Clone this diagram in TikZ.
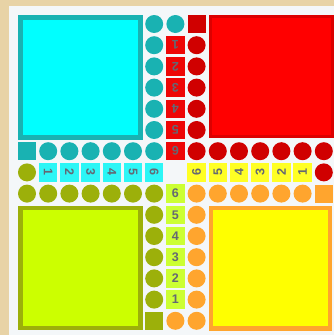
\documentclass[tikz,border=0pt]{standalone}
\usepackage{fontspec}
\setsansfont{Liberation Sans}
\definecolor{beige}{HTML}{E8D3A6}
\definecolor{boardbg}{HTML}{F4F7F9}
\definecolor{tealc}{HTML}{19B2B2}
\definecolor{cyanf}{HTML}{00FFFF}
\definecolor{cyann}{HTML}{2CF6F6}
\definecolor{redf}{HTML}{FF0000}
\definecolor{redc}{HTML}{D00000}
\definecolor{redb}{HTML}{DC0000}
\definecolor{redn}{HTML}{EE0606}
\definecolor{limef}{HTML}{CCFF00}
\definecolor{olivec}{HTML}{9CB00A}
\definecolor{limen}{HTML}{CCFF33}
\definecolor{yellowf}{HTML}{FFFF00}
\definecolor{orangec}{HTML}{FFA52E}
\definecolor{yellown}{HTML}{FFFF24}
\definecolor{numgray}{HTML}{646873}
\begin{document}
\begin{tikzpicture}[x=1pt,y=-1pt,
  dot/.style={circle,fill=#1,minimum size=18pt,inner sep=0pt},
  sqr/.style={rectangle,fill=#1,minimum size=18pt,inner sep=0pt},
  num/.style={rectangle,fill=#1,minimum size=18.5pt,inner sep=0pt,text=numgray,
    font=\sffamily\bfseries\fontsize{12.5}{12.5}\selectfont},
  home/.style={line width=4.5pt,draw=#1}]
\useasboundingbox (0,0) rectangle (334,335);
\fill[beige] (0,0) rectangle (334,335);
\fill[boardbg] (8.5,5.5) rectangle (334,335);
% home squares
\draw[home=tealc,fill=cyanf] (20.3,17.3) rectangle (140.4,137.4);
\draw[home=redb,line width=3pt,fill=redf] (210.3,16.5) rectangle (332,136.6);
\draw[home=olivec,fill=limef] (20.3,208.1) rectangle (140.4,328.2);
\draw[home=orangec,fill=yellowf] (211.1,208.1) rectangle (330.2,328.6);
\def\X#1{{27+21.2*(#1)}}
\def\Y#1{{24+21.2*(#1)}}
% teal (top-left)
\node[sqr=tealc] (t00) at (\X{0},\Y{6}) {};
\foreach \i in {1,...,6} \node[dot=tealc] (tr\i) at (\X{\i},\Y{6}) {};
\foreach \j in {0,...,5} \node[dot=tealc] (tc\j) at (\X{6},\Y{\j}) {};
\node[dot=tealc] (t70) at (\X{7},\Y{0}) {};
\foreach \i in {1,...,6} \node[num=cyann,rotate=-90] (cn\i) at (\X{\i},\Y{7}) {\i};
% olive (bottom-left)
\node[dot=olivec] (o07) at (\X{0},\Y{7}) {};
\foreach \i in {0,...,6} \node[dot=olivec] (or\i) at (\X{\i},\Y{8}) {};
\foreach \j in {9,...,13} \node[dot=olivec] (oc\j) at (\X{6},\Y{\j}) {};
\node[sqr=olivec] (o614) at (\X{6},\Y{14}) {};
\foreach \j/\n in {8/6,9/5,10/4,11/3,12/2,13/1} \node[num=limen] (ln\n) at (\X{7},\Y{\j}) {\n};
% orange (bottom-right)
\node[dot=orangec] (a714) at (\X{7},\Y{14}) {};
\foreach \j in {8,...,14} \node[dot=orangec] (ac\j) at (\X{8},\Y{\j}) {};
\foreach \i in {9,...,13} \node[dot=orangec] (ar\i) at (\X{\i},\Y{8}) {};
\node[sqr=orangec] (a148) at (\X{14},\Y{8}) {};
\foreach \i/\n in {8/6,9/5,10/4,11/3,12/2,13/1} \node[num=yellown,rotate=90] (yn\n) at (\X{\i},\Y{7}) {\n};
% red (top-right)
\node[dot=redc] (r147) at (\X{14},\Y{7}) {};
\foreach \i in {9,...,14} \node[dot=redc] (rr\i) at (\X{\i},\Y{6}) {};
\foreach \j in {1,...,6} \node[dot=redc] (rc\j) at (\X{8},\Y{\j}) {};
\node[sqr=redc] (r80) at (\X{8},\Y{0}) {};
\foreach \j in {1,...,6} \node[num=redn,rotate=180] (rn\j) at (\X{7},\Y{\j}) {\j};
\end{tikzpicture}
\end{document}
